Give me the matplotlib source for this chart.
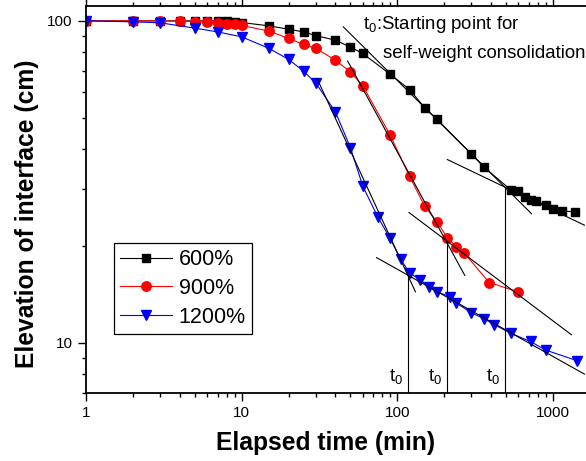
import matplotlib.pyplot as plt
import matplotlib.ticker as ticker


# elapsed time (min) and interface elevation (cm) for each initial water content
t_600 = [1, 2, 3, 4, 5, 6, 7, 8, 9, 10, 15, 20, 25, 30, 40, 50, 60, 90, 120, 150, 180,
         300, 360, 540, 600, 660, 720, 780, 900, 1000, 1150, 1400]
h_600 = [100, 100, 100, 100, 100, 100, 100, 99.6, 99.2, 98.8, 96.5, 94.2, 92.4, 90.0, 87.1,
         82.9, 79.2, 68.3, 61.2, 53.8, 49.5, 38.6, 35.2, 29.8, 29.7, 28.3, 27.7, 27.6, 26.8,
         26.0, 25.7, 25.5]

t_900 = [1, 2, 3, 4, 5, 6, 7, 8, 9, 10, 15, 20, 25, 30, 40, 50, 60, 90, 120, 150, 180,
         210, 240, 270, 390, 600]
h_900 = [100, 100, 100, 99.8, 99.4, 99.1, 98.8, 98.0, 97.5, 96.8, 92.9, 88.2, 84.5, 82.1,
         75.5, 69.4, 62.9, 44.2, 32.9, 26.6, 23.8, 21.2, 19.9, 19.0, 15.4, 14.4]

t_1200 = [1, 2, 3, 5, 7, 10, 15, 20, 25, 30, 40, 50, 60, 75, 90, 105, 120, 140, 160, 180,
          220, 240, 300, 360, 420, 540, 720, 900, 1440]
h_1200 = [100, 99.3, 98.6, 94.9, 92.4, 89.2, 82.1, 75.9, 69.8, 64.0, 52.2, 40.4, 30.7, 24.6,
          21.1, 18.2, 16.5, 15.7, 14.9, 14.4, 13.9, 13.3, 12.4, 11.9, 11.4, 10.7, 10.1, 9.5, 8.8]

labels = ['600%', '900%', '1200%']

# tangent lines: (t_start, t_end), (h_start, h_end)
tangent_t = [(45, 730), (210, 1600), (48, 272), (119, 1320), (30.5, 131), (73.6, 1600)]
tangent_h = [(95.8, 25.2), (37.1, 23.2), (75.0, 16.2), (25.4, 10.6), (66.2, 14.4), (18.4, 8.0)]

# starting points of self-weight consolidation
t0_time = [117, 208, 493]
t0_height = [16.2, 20.6, 30.5]

x_ticks = [1, 10, 100, 1000]
x_tick_labels = ['1', '10', '100', '1000']
y_ticks = [10, 100]
y_tick_labels = ['10', '100']

plt.rcParams['font.family'] = ['Liberation Sans', 'DejaVu Sans']
plt.rcParams['mathtext.default'] = 'regular'

fig = plt.figure(figsize=(5.86, 4.61), dpi=100)
ax = fig.add_axes([0.1473, 0.148, 0.857, 0.8384])

ax.plot(t_600, h_600, '-s', color='black', ms=5.8, lw=0.8, label=labels[0])
ax.plot(t_900, h_900, '-o', color='red', ms=6.8, lw=0.8, label=labels[1])
ax.plot(t_1200, h_1200, '-v', color='blue', ms=7.2, lw=0.8, label=labels[2])

for tt, hh in zip(tangent_t, tangent_h):
    ax.plot(tt, hh, color='black', lw=0.8)

for t0, h0 in zip(t0_time, t0_height):
    ax.plot([t0, t0], [7, h0], color='black', lw=0.8)
    ax.text(t0 * 0.93, 7.6, 't$_0$', ha='right', va='baseline', fontsize=13.4)

ax.text(59.8, 94.2, 't$_0$:Starting point for', ha='left', va='baseline', fontsize=13.4)
ax.text(80.8, 76.6, 'self-weight consolidation', ha='left', va='baseline', fontsize=13.4)

ax.set_xscale('log')
ax.set_yscale('log')
ax.set_xlim(1, 1700)
ax.set_ylim(7, 111)

ax.set_xticks(x_ticks)
ax.set_xticklabels(x_tick_labels)
ax.set_yticks(y_ticks)
ax.set_yticklabels(y_tick_labels)
ax.xaxis.set_minor_locator(ticker.LogLocator(subs=range(2, 10)))
ax.yaxis.set_minor_locator(ticker.LogLocator(subs=range(2, 10)))
ax.xaxis.set_minor_formatter(ticker.NullFormatter())
ax.yaxis.set_minor_formatter(ticker.NullFormatter())

ax.tick_params(which='both', direction='out', width=1.0, labelsize=11, top=True, right=False)
ax.tick_params(which='major', length=5.8, pad=4)
ax.tick_params(which='minor', length=3.2)
for s in ax.spines.values():
    s.set_linewidth(1.3)
ax.spines['right'].set_visible(False)

ax.set_xlabel('Elapsed time (min)', fontsize=17.7, fontweight='bold')
ax.set_ylabel('Elevation of interface (cm)', fontsize=17.7, fontweight='bold')
ax.xaxis.label.set_va('center')
ax.yaxis.label.set_va('center')
ax.xaxis.set_label_coords(0.477, -0.130)
ax.yaxis.set_label_coords(-0.119, 0.464)

leg = ax.legend(loc='upper left', bbox_to_anchor=(0.0552, 0.388), borderaxespad=0,
                fontsize=15.5, fancybox=False, framealpha=1, edgecolor='black',
                handlelength=2.4, handletextpad=0.3, labelspacing=0.36, borderpad=0.3)
leg.get_frame().set_linewidth(0.9)

fig.savefig('out.png', dpi=100)
